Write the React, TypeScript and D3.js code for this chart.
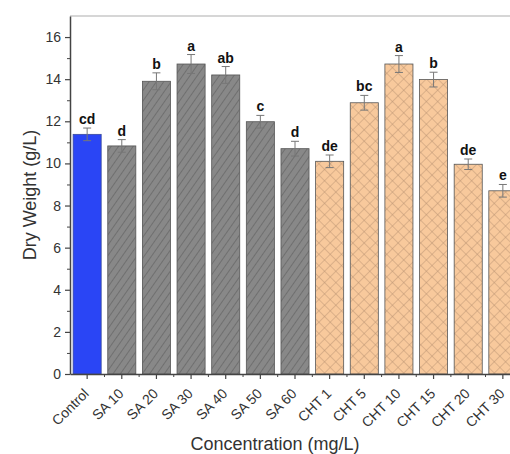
import { useEffect, useRef } from 'react';
import * as d3 from 'd3';

const WIDTH = 510;
const HEIGHT = 454;
const MARGIN = { top: 16, right: -10, bottom: 80, left: 70 };

const categories = ['Control', 'SA 10', 'SA 20', 'SA 30', 'SA 40', 'SA 50', 'SA 60',
  'CHT 1', 'CHT 5', 'CHT 10', 'CHT 15', 'CHT 20', 'CHT 30'];
const dryWeight = [11.38, 10.83, 13.9, 14.72, 14.2, 11.98, 10.7, 10.1, 12.88, 14.72, 13.98, 9.96, 8.7];
const errors = [0.3, 0.3, 0.4, 0.45, 0.4, 0.3, 0.35, 0.3, 0.35, 0.4, 0.35, 0.25, 0.3];
const letters = ['cd', 'd', 'b', 'a', 'ab', 'c', 'd', 'de', 'bc', 'a', 'b', 'de', 'e'];
const groups = ['control', 'sa', 'sa', 'sa', 'sa', 'sa', 'sa', 'cht', 'cht', 'cht', 'cht', 'cht', 'cht'];
const yTicks = [0, 2, 4, 6, 8, 10, 12, 14, 16];

const FONT = 'Arial, "Liberation Sans", sans-serif';

export default function App() {
  const svgRef = useRef<SVGSVGElement>(null);
  const boundsWidth = WIDTH - MARGIN.left - MARGIN.right;
  const boundsHeight = HEIGHT - MARGIN.top - MARGIN.bottom;

  useEffect(() => {
    if (!svgRef.current) return;
    const svg = d3.select(svgRef.current);
    svg.selectAll('*').remove();

    // motifs de remplissage
    const defs = svg.append('defs');
    const hatch = defs.append('pattern')
      .attr('id', 'hatch')
      .attr('patternUnits', 'userSpaceOnUse')
      .attr('width', 6).attr('height', 6)
      .attr('patternTransform', 'rotate(35)');
    hatch.append('rect').attr('width', 6).attr('height', 6).attr('fill', '#888888');
    hatch.append('line').attr('x1', 0).attr('y1', 0).attr('x2', 0).attr('y2', 6)
      .attr('stroke', '#666').attr('stroke-width', 1.5);

    const cross = defs.append('pattern')
      .attr('id', 'cross')
      .attr('patternUnits', 'userSpaceOnUse')
      .attr('width', 8).attr('height', 8)
      .attr('patternTransform', 'rotate(45)');
    cross.append('rect').attr('width', 8).attr('height', 8).attr('fill', '#f8c99c');
    cross.append('line').attr('x1', 0).attr('y1', 0).attr('x2', 0).attr('y2', 8)
      .attr('stroke', '#b5916f').attr('stroke-width', 0.9);
    cross.append('line').attr('x1', 0).attr('y1', 0).attr('x2', 8).attr('y2', 0)
      .attr('stroke', '#b5916f').attr('stroke-width', 0.9);

    const fills: Record<string, string> = {
      control: '#2a45f5',
      sa: 'url(#hatch)',
      cht: 'url(#cross)',
    };

    const x = d3.scaleBand().domain(categories).range([0, boundsWidth]).paddingInner(0.19).paddingOuter(0.09);
    const y = d3.scaleLinear().domain([0, 17]).range([boundsHeight, 0]);

    const g = svg.append('g').attr('transform', `translate(${MARGIN.left}, ${MARGIN.top})`);

    // cadre haut
    g.append('line')
      .attr('x1', 0).attr('x2', boundsWidth + 20)
      .attr('y1', 0).attr('y2', 0)
      .attr('stroke', '#d6d6d6').attr('stroke-width', 2);

    // barres
    g.selectAll('.bar')
      .data(categories)
      .join('rect')
      .attr('class', 'bar')
      .attr('x', d => x(d)!)
      .attr('y', (_, i) => y(dryWeight[i]))
      .attr('width', x.bandwidth())
      .attr('height', (_, i) => y(0) - y(dryWeight[i]))
      .attr('fill', (_, i) => fills[groups[i]])
      .attr('stroke', (_, i) => groups[i] === 'control' ? '#3a4a9a' : '#555')
      .attr('stroke-width', 0.8);

    // barres d'erreur
    const eb = g.selectAll('.err').data(categories).join('g').attr('class', 'err')
      .attr('stroke', '#777').attr('stroke-width', 1);
    eb.append('line')
      .attr('x1', d => x(d)! + x.bandwidth() / 2)
      .attr('x2', d => x(d)! + x.bandwidth() / 2)
      .attr('y1', (_, i) => y(dryWeight[i] - errors[i]))
      .attr('y2', (_, i) => y(dryWeight[i] + errors[i]));
    eb.append('line')
      .attr('x1', d => x(d)! + x.bandwidth() / 2 - 4)
      .attr('x2', d => x(d)! + x.bandwidth() / 2 + 4)
      .attr('y1', (_, i) => y(dryWeight[i] + errors[i]))
      .attr('y2', (_, i) => y(dryWeight[i] + errors[i]));
    eb.append('line')
      .attr('x1', d => x(d)! + x.bandwidth() / 2 - 4)
      .attr('x2', d => x(d)! + x.bandwidth() / 2 + 4)
      .attr('y1', (_, i) => y(dryWeight[i] - errors[i]))
      .attr('y2', (_, i) => y(dryWeight[i] - errors[i]));

    // lettres
    g.selectAll('.letter')
      .data(categories)
      .join('text')
      .attr('class', 'letter')
      .attr('x', d => x(d)! + x.bandwidth() / 2)
      .attr('y', (_, i) => y(dryWeight[i] + errors[i]) - 4)
      .attr('text-anchor', 'middle')
      .style('font-family', FONT)
      .style('font-size', '14px')
      .style('font-weight', 'bold')
      .style('fill', '#111')
      .text((_, i) => letters[i]);

    // axe Y
    const yAxis = g.append('g')
      .call(d3.axisLeft(y).tickValues(yTicks).tickSize(5).tickSizeOuter(0).tickPadding(4));
    yAxis.select('.domain').attr('stroke', '#444').attr('stroke-width', 1.5);
    yAxis.selectAll('.tick line').attr('stroke', '#444').attr('stroke-width', 1.2);
    yAxis.selectAll('text')
      .style('font-family', FONT).style('font-size', '14px').style('fill', '#333');
    g.append('g')
      .call(d3.axisLeft(y).tickValues(d3.range(1, 17, 2)).tickSize(3).tickFormat(() => ''))
      .call(s => s.select('.domain').remove())
      .selectAll('.tick line').attr('stroke', '#444');

    // axe X
    const xAxis = g.append('g')
      .attr('transform', `translate(0, ${boundsHeight})`)
      .call(d3.axisBottom(x).tickSize(5).tickSizeOuter(0).tickPadding(5));
    xAxis.select('.domain').attr('stroke', '#444').attr('stroke-width', 1.5);
    xAxis.selectAll('.tick line').attr('stroke', '#444').attr('stroke-width', 1.2);
    xAxis.selectAll('text')
      .style('font-family', FONT).style('font-size', '14px').style('fill', '#333')
      .attr('text-anchor', 'end')
      .attr('dx', '-0.9em')
      .attr('dy', '0.45em')
      .attr('transform', 'rotate(-45)');
    // ticks mineurs entre les barres
    g.append('g')
      .attr('transform', `translate(0, ${boundsHeight})`)
      .selectAll('line')
      .data(categories.slice(1))
      .join('line')
      .attr('x1', d => x(d)! - (x.step() - x.bandwidth()) / 2)
      .attr('x2', d => x(d)! - (x.step() - x.bandwidth()) / 2)
      .attr('y1', 0).attr('y2', 3)
      .attr('stroke', '#444');

    // titres des axes
    svg.append('text')
      .attr('transform', `translate(36, 195) rotate(-90)`)
      .attr('text-anchor', 'middle')
      .style('font-family', FONT).style('font-size', '18px').style('fill', '#333')
      .text('Dry Weight (g/L)');
    svg.append('text')
      .attr('x', 275)
      .attr('y', 450)
      .attr('text-anchor', 'middle')
      .style('font-family', FONT).style('font-size', '18px').style('fill', '#333')
      .text('Concentration (mg/L)');
  }, [boundsWidth, boundsHeight]);

  return (
    <svg ref={svgRef} width={WIDTH} height={HEIGHT}
      style={{ position: 'absolute', left: 0, top: 0, background: '#fff' }} />
  );
}
